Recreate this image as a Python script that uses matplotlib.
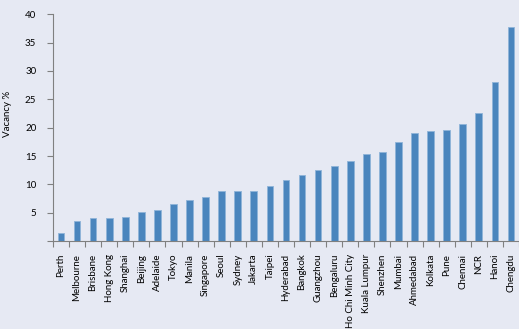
import matplotlib.pyplot as plt
import numpy as np

# Office vacancy by city
cities = ['Perth', 'Melbourne', 'Brisbane', 'Hong Kong', 'Shanghai', 'Beijing',
          'Adelaide', 'Tokyo', 'Manila', 'Singapore', 'Seoul', 'Sydney',
          'Jakarta', 'Taipei', 'Hyderabad', 'Bangkok', 'Guangzhou', 'Bengaluru',
          'Ho Chi Minh City', 'Kuala Lumpur', 'Shenzhen', 'Mumbai', 'Ahmedabad',
          'Kolkata', 'Pune', 'Chennai', 'NCR', 'Hanoi', 'Chengdu']
vacancy = [1.4, 3.5, 4.1, 4.1, 4.3, 5.2, 5.5, 6.5, 7.3, 7.8, 8.9, 8.9,
           8.9, 9.8, 10.8, 11.6, 12.5, 13.2, 14.2, 15.4, 15.7, 17.4, 19.1,
           19.4, 19.6, 20.6, 22.6, 28.1, 37.8]
yticks = [5, 10, 15, 20, 25, 30, 35, 40]

bg = '#E6E9F3'
plt.rcParams['font.family'] = ['Lato', 'DejaVu Sans']

fig = plt.figure(figsize=(5.19, 3.29), dpi=100, facecolor=bg)
ax = fig.add_axes([0.102, 0.267, 0.898, 0.69], facecolor=bg)

x = np.arange(len(cities))
ax.bar(x, vacancy, width=0.42, color='#4A85BD', edgecolor='#8FB4D9', linewidth=0.6)

ax.set_xlim(-0.5, len(cities) - 0.5)
ax.set_ylim(0, 40)
ax.set_yticks([0] + yticks)
ax.set_yticklabels([''] + [str(v) for v in yticks], fontsize=7)
ax.set_xticks(x)
ax.set_xticklabels(cities, rotation=90, fontsize=7)
ax.set_xticks(np.arange(len(cities) + 1) - 0.5, minor=True)
ax.tick_params(axis='x', which='major', length=0, pad=9)
ax.tick_params(axis='x', which='minor', length=4, color='#808080', width=0.8)
ax.tick_params(axis='y', length=4, color='#808080', width=0.8, pad=8)
ax.set_ylabel('Vacancy %', fontsize=7)
ax.yaxis.set_label_coords(-0.088, 0.56)

for s in ['top', 'right']:
    ax.spines[s].set_visible(False)
for s in ['left', 'bottom']:
    ax.spines[s].set_color('#808080')
    ax.spines[s].set_linewidth(0.8)

plt.savefig('out.png', dpi=100, facecolor=bg)
